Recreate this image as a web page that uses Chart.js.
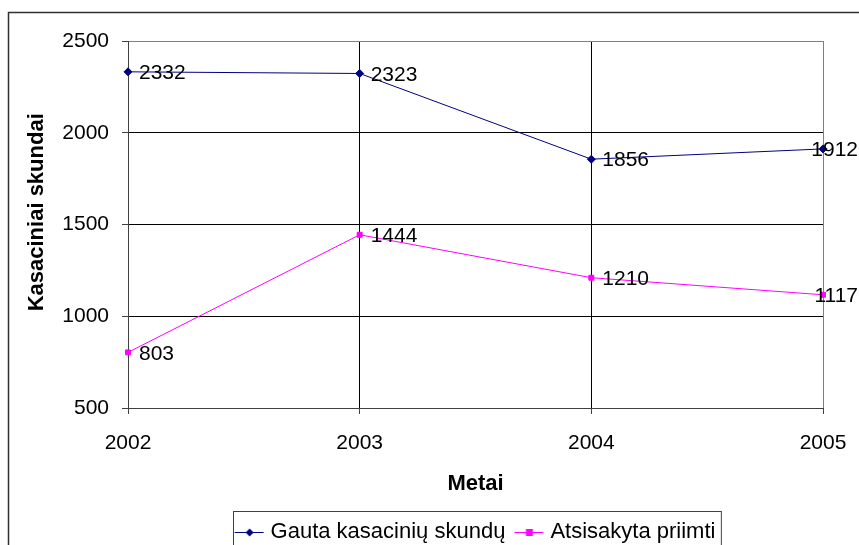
<!DOCTYPE html>
<html>
<head>
<meta charset="utf-8">
<script src="https://cdn.jsdelivr.net/npm/chart.js@4"></script>
<style>
  html, body { margin: 0; padding: 0; background: #fff; }
  #wrap { width: 859px; height: 545px; }
</style>
</head>
<body>
<div id="wrap"><canvas id="myChart" width="859" height="545"></canvas></div>
<script>
// data
var years = ['2002', '2003', '2004', '2005'];
var gauta = [2332, 2323, 1856, 1912];
var atsisakyta = [803, 1444, 1210, 1117];
var yTicks = [500, 1000, 1500, 2000, 2500];

var seriesNames = ['Gauta kasacinių skundų', 'Atsisakyta priimti'];
var navy = '#000080';
var magenta = '#FF00FF';
var font_ = 'Liberation Sans, Arial, sans-serif';

// legend icon: a short line with the marker in the middle (left part left blank)
function legendIcon(color, shape) {
    var c = document.createElement('canvas');
    c.width = 38; c.height = 10;
    var g = c.getContext('2d');
    g.strokeStyle = color;
    g.lineWidth = 1;
    g.beginPath();
    g.moveTo(6, 5.5); g.lineTo(35, 5.5);
    g.stroke();
    g.fillStyle = color;
    if (shape === 'diamond') {
        g.beginPath();
        g.moveTo(21, 1.5); g.lineTo(25, 5.5); g.lineTo(21, 9.5); g.lineTo(17, 5.5);
        g.closePath(); g.fill();
    } else {
        g.fillRect(17.5, 2, 7, 7);
    }
    return c;
}
var icons = [legendIcon(navy, 'diamond'), legendIcon(magenta, 'square')];

var frame = {
    id: 'frame',
    afterDraw: function (chart) {
        var ctx = chart.ctx;
        ctx.save();
        // outer chart border
        ctx.strokeStyle = '#303030';
        ctx.lineWidth = 1.5;
        ctx.strokeRect(8.5, 12.5, 1000, 1000);
        // legend border
        var boxes = chart.legend.legendHitBoxes;
        if (boxes && boxes.length) {
            var l = boxes[0].left, r = boxes[0].left + boxes[0].width;
            var t = boxes[0].top;
            boxes.forEach(function (b) {
                l = Math.min(l, b.left);
                r = Math.max(r, b.left + b.width);
            });
            ctx.strokeStyle = '#404040';
            ctx.lineWidth = 1;
            ctx.strokeRect(Math.round(l - 3) + 0.5, Math.round(t - 10) + 0.5, r - l + 8, 60);
        }
        ctx.restore();
    }
};

var dataLabels = {
    id: 'dataLabels',
    afterDatasetsDraw: function (chart) {
        var ctx = chart.ctx;
        ctx.save();
        ctx.font = '21px ' + font_;
        ctx.fillStyle = '#000';
        ctx.textBaseline = 'middle';
        ctx.textAlign = 'left';
        chart.data.datasets.forEach(function (ds, i) {
            chart.getDatasetMeta(i).data.forEach(function (pt, j) {
                var txt = String(ds.data[j]);
                var w = ctx.measureText(txt).width;
                var x = Math.min(pt.x + 11, chart.width - 1 - w);
                ctx.fillText(txt, x, pt.y + 1.5);
            });
        });
        ctx.restore();
    }
};

var ctx_ = document.getElementById('myChart').getContext('2d');
var myChart = new Chart(ctx_, {
    type: 'line',
    data: {
        labels: years,
        datasets: [{
            label: seriesNames[0],
            data: gauta,
            borderColor: navy,
            backgroundColor: navy,
            borderWidth: 1,
            pointStyle: 'rectRot',
            pointRadius: 4,
            pointHoverRadius: 4,
            tension: 0,
            fill: false
        }, {
            label: seriesNames[1],
            data: atsisakyta,
            borderColor: magenta,
            backgroundColor: magenta,
            borderWidth: 1,
            pointStyle: 'rect',
            pointRadius: 3.5,
            pointHoverRadius: 3.5,
            tension: 0,
            fill: false
        }]
    },
    options: {
        responsive: false,
        animation: false,
        events: [],
        layout: { padding: { top: 41, right: 36, left: 0, bottom: -8 } },
        plugins: {
            tooltip: { enabled: false },
            legend: {
                position: 'bottom',
                fullSize: false,
                labels: {
                    usePointStyle: true,
                    pointStyleWidth: 24,
                    padding: 10,
                    color: '#000',
                    font: { family: font_, size: 22 },
                    generateLabels: function (chart) {
                        var items = Chart.defaults.plugins.legend.labels.generateLabels(chart);
                        items.forEach(function (it, k) { it.pointStyle = icons[k]; });
                        return items;
                    }
                }
            }
        },
        scales: {
            x: {
                offset: false,
                afterFit: function (scale) {
                    scale.height = 103;
                    scale.paddingLeft = 0;
                    scale.paddingRight = 0;
                },
                grid: {
                    color: function (c) { return c.index === 3 ? '#808080' : '#000'; },
                    tickLength: 6,
                    tickColor: '#404040'
                },
                border: { color: '#404040' },
                ticks: { color: '#000', padding: 17, maxRotation: 0, font: { family: font_, size: 21 } },
                title: {
                    display: true,
                    text: 'Metai',
                    color: '#000',
                    padding: { top: 0, bottom: 14 },
                    font: { family: font_, size: 22, weight: 'bold' }
                }
            },
            y: {
                min: 500,
                max: 2500,
                afterFit: function (scale) { scale.width = 128; },
                afterBuildTicks: function (scale) {
                    scale.ticks = yTicks.map(function (v) { return { value: v }; });
                },
                grid: {
                    color: function (c) { return c.tick && c.tick.value === 2500 ? '#808080' : '#000'; },
                    tickLength: 6,
                    tickColor: '#404040'
                },
                border: { color: '#404040' },
                ticks: {
                    color: '#000',
                    padding: 13,
                    font: { family: font_, size: 21 },
                    callback: function (v) { return String(v); }
                },
                title: {
                    display: true,
                    text: '    Kasaciniai skundai',
                    color: '#000',
                    padding: { top: 24, bottom: 0 },
                    font: { family: font_, size: 22, weight: 'bold' }
                }
            }
        }
    },
    plugins: [frame, dataLabels]
});
</script>
</body>
</html>
